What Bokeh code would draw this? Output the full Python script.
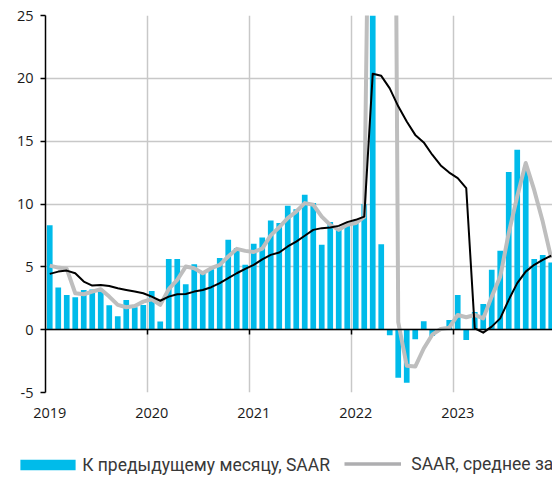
from bokeh.plotting import figure
from bokeh.models import Range1d, LinearAxis, FixedTicker, Legend, LegendItem, ColumnDataSource
from bokeh.embed import file_html
from bokeh.resources import INLINE

# Months Jan 2019 .. Dec 2023
years = ["2019", "2020", "2021", "2022", "2023"]
months = [f"{y}-{m:02d}" for y in years for m in range(1, 13)]

# Month-on-month, SAAR (%)
mom_saar = [
    8.3, 3.35, 2.76, 2.58, 3.16, 3.2, 3.0, 1.94, 1.07, 2.37, 1.78, 1.97,
    3.08, 0.64, 5.63, 5.63, 3.61, 5.21, 4.65, 4.81, 5.71, 7.15, 6.49, 5.16,
    6.83, 7.33, 8.69, 8.48, 9.86, 9.59, 10.73, 10.07, 6.75, 8.56, 8.08, 8.3,
    8.6, 10.0, 140.0, 6.8, -0.45, -3.82, -4.22, -0.77, 0.67, -0.5, 0.1, 0.77,
    2.76, -0.82, 1.4, 2.05, 4.76, 6.27, 12.54, 14.32, 12.9, 5.63, 5.95, 5.34,
]

# SAAR, 3-month average (%)
saar_3m = [
    5.1, 4.94, 4.84, 2.9, 2.82, 3.03, 3.22, 2.63, 1.97, 1.78, 1.89, 2.23,
    2.42, 1.97, 3.22, 3.96, 5.02, 4.89, 4.49, 4.89, 5.16, 5.82, 6.43, 6.27,
    6.18, 6.45, 7.5, 8.15, 8.88, 9.4, 10.07, 9.94, 9.0, 8.34, 7.94, 8.34,
    8.48, 8.97, 60.0, 90.0, 110.0, 0.6, -2.87, -2.94, -1.5, -0.4, 0.05, 0.16,
    1.17, 0.99, 1.17, 0.9, 2.63, 4.22, 7.68, 10.6, 13.26, 11.1, 8.6, 5.69,
]

# SAAR, 12-month average (%)
saar_12m = [
    4.44, 4.62, 4.7, 4.49, 3.83, 3.51, 3.56, 3.48, 3.3, 3.16, 3.03, 2.9,
    2.63, 2.3, 2.63, 2.82, 2.84, 3.03, 3.16, 3.38, 3.7, 4.1, 4.49, 4.84,
    5.16, 5.6, 5.95, 6.14, 6.62, 7.01, 7.47, 7.94, 8.08, 8.13, 8.26, 8.56,
    8.74, 9.0, 20.37, 20.2, 19.2, 17.77, 16.57, 15.5, 14.9, 13.92, 13.07, 12.5,
    12.06, 11.27, 0.1, -0.24, 0.24, 0.9, 2.37, 3.7, 4.62, 5.16, 5.55, 5.9,
]

y_ticks = [-5, 0, 5, 10, 15, 20, 25]

label_bar = "К предыдущему месяцу, SAAR"
label_3m = "SAAR, среднее за 3 месяца"
label_12m = "SAAR, среднее за 12 месяцев"

BAR_COLOR = "#00BBEA"
GRAY_COLOR = "#BEBEBE"
GRID = "#C8C8C8"
TICK_FONT = "Open Sans"

x = [i + 0.5 for i in range(len(months))]
src = ColumnDataSource(dict(x=x, month=months, mom=mom_saar, m3=saar_3m, m12=saar_12m))

p = figure(width=552, height=445, x_range=Range1d(0, 59.65), y_range=Range1d(-5, 25),
           output_backend="svg", toolbar_location=None,
           min_border_left=45, min_border_right=0, min_border_top=15, min_border_bottom=53)
p.outline_line_color = None
p.background_fill_color = "white"
p.border_fill_color = "white"

# y axis
p.yaxis.ticker = FixedTicker(ticks=y_ticks)
p.yaxis.major_label_overrides = {t: str(t) for t in y_ticks}
p.yaxis.axis_line_color = "black"
p.yaxis.axis_line_width = 1.5
p.yaxis.major_tick_line_color = "black"
p.yaxis.major_tick_line_width = 1.5
p.yaxis.major_tick_out = 5
p.yaxis.major_tick_in = 0
p.yaxis.minor_tick_line_color = None
p.yaxis.major_label_text_font = TICK_FONT
p.yaxis.major_label_text_font_size = "14.5px"
p.yaxis.major_label_text_color = "#1a1a1a"
p.yaxis.major_label_standoff = 7

# x axis with year labels (at first month of each year)
year_pos = [x[12 * k] for k in range(len(years))]
p.xaxis.ticker = FixedTicker(ticks=year_pos)
p.xaxis.major_label_overrides = {pos: yr for pos, yr in zip(year_pos, years)}
p.xaxis.axis_line_color = None
p.xaxis.major_tick_line_color = None
p.xaxis.minor_tick_line_color = None
p.xaxis.major_tick_out = 0
p.xaxis.major_tick_in = 0
p.xaxis.major_label_standoff = 15
p.xaxis.major_label_text_font = TICK_FONT
p.xaxis.major_label_text_font_size = "14.5px"
p.xaxis.major_label_text_color = "#1a1a1a"

# grids
year_bounds = [12 * k for k in range(1, len(years))]
p.xgrid.ticker = FixedTicker(ticks=year_bounds)
p.ygrid.ticker = FixedTicker(ticks=y_ticks)
for g in (p.xgrid, p.ygrid):
    g.grid_line_color = GRID
    g.grid_line_width = 1.5

# zero axis with year-boundary ticks (no labels)
zaxis = LinearAxis(fixed_location=0, ticker=FixedTicker(ticks=year_bounds),
                   axis_line_color="black", axis_line_width=1.5,
                   major_tick_line_color="black", major_tick_line_width=1.5,
                   major_tick_out=5, major_tick_in=0, minor_tick_line_color=None,
                   major_label_overrides={b: "" for b in year_bounds},
                   major_label_text_font_size="1px", major_label_standoff=0)
p.add_layout(zaxis, "below")

p.vbar(x="x", top="mom", bottom=0, width=0.67, source=src,
       fill_color=BAR_COLOR, line_color=None)
p.line(x="x", y="m3", source=src, line_color=GRAY_COLOR, line_width=4, line_join="round")
p.line(x="x", y="m12", source=src, line_color="black", line_width=2, line_join="round")

# legend strip (separate root below the chart)
lg = figure(width=552, height=34, x_range=Range1d(0, 1), y_range=Range1d(0, 1),
            output_backend="svg", toolbar_location=None, x_axis_type=None, y_axis_type=None,
            min_border_left=0, min_border_right=0, min_border_top=0, min_border_bottom=0)
lg.outline_line_color = None
lg.grid.visible = False
placeholder = ColumnDataSource(dict(x=[float("nan")], y=[float("nan")]))
lb = lg.vbar(x="x", top="y", width=0.5, source=placeholder, fill_color=BAR_COLOR, line_color=None)
l3 = lg.line(x="x", y="y", source=placeholder, line_color="#AEAEB0", line_width=3.3)
l12 = lg.line(x="x", y="y", source=placeholder, line_color="black", line_width=2)

leg_common = dict(orientation="horizontal", padding=0, margin=0, border_line_color=None,
                  background_fill_alpha=0, label_text_font="Roboto",
                  label_text_font_size="17.5px", label_text_color="#383838", label_height=20)
leg1 = Legend(items=[LegendItem(label=label_bar, renderers=[lb])],
              location=(13.2, 4.5), glyph_width=69, glyph_height=13,
              label_standoff=0, **leg_common)
leg2 = Legend(items=[LegendItem(label=label_3m, renderers=[l3]),
                     LegendItem(label=label_12m, renderers=[l12])],
              location=(344.3, 5.5), glyph_width=57, glyph_height=13,
              label_standoff=10, spacing=16, **leg_common)
lg.add_layout(leg1)
lg.add_layout(leg2)

open("out.html", "w").write(file_html([p, lg], INLINE))
